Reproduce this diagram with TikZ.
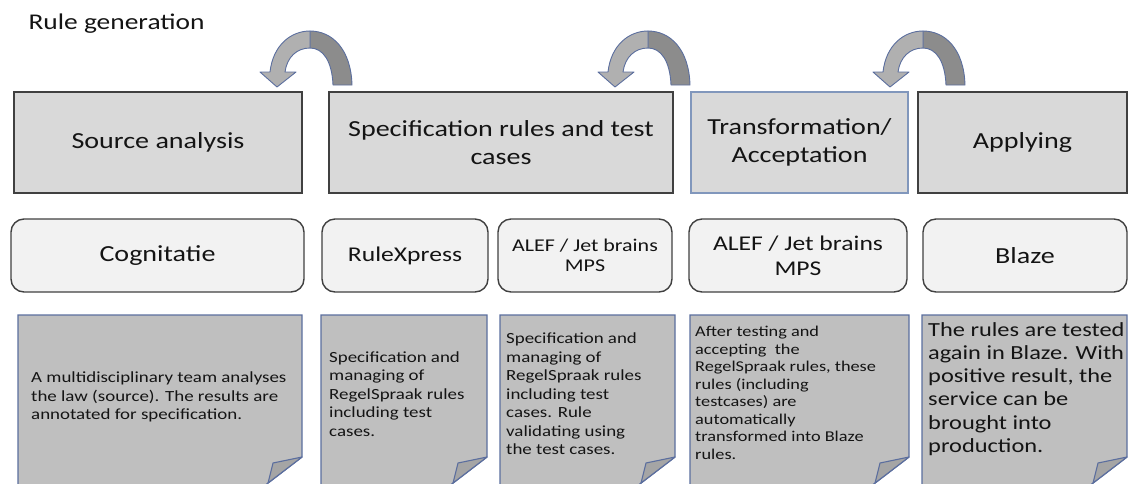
\documentclass[tikz,border=0pt]{standalone}
\usepackage{fontspec}
\setmainfont{Carlito}[FakeStretch=1.22]
\usepackage{tikz}
\usetikzlibrary{positioning,calc}
\definecolor{cHead}{HTML}{D9D9D9}
\definecolor{cHeadLine}{HTML}{404040}
\definecolor{cTransLine}{HTML}{8197BC}
\definecolor{cTool}{HTML}{F2F2F2}
\definecolor{cNote}{HTML}{BFBFBF}
\definecolor{cNoteLine}{HTML}{5B6E9E}
\definecolor{cFold}{HTML}{A5A5A5}
\definecolor{cArrFront}{HTML}{B0B0B0}
\definecolor{cArrBack}{HTML}{8C8C8C}
\definecolor{cText}{HTML}{141414}
\tikzset{
  head/.style={draw=cHeadLine,fill=cHead,line width=1.4pt,align=center,inner sep=0pt,
    minimum height=101pt,text=cText,font=\fontsize{23}{28}\selectfont},
  tool/.style={draw=cHeadLine,fill=cTool,rounded corners=13pt,line width=1.4pt,align=center,
    inner sep=0pt,minimum height=73pt,text=cText},
  note/.style={draw=cNoteLine,fill=cNote,line width=1.3pt},
  fold/.style={draw=cNoteLine,fill=cFold,line width=1.1pt,line join=round},
  ntext/.style={anchor=west,align=left,inner sep=0pt,text=cText},
  bendfront/.style={draw=cNoteLine,fill=cArrFront,line width=0.9pt,line join=round},
  bendback/.style={draw=cNoteLine,fill=cArrBack,line width=0.9pt,line join=round}}

\begin{document}
\begin{tikzpicture}[x=1pt,y=-1pt]
\useasboundingbox (0,0) rectangle (1129,483);
\clip (0,0) rectangle (1129,483);
\node[anchor=base west,text=cText,font=\fontsize{22.5}{27}\selectfont] (title) at (25,29) {Rule generation};

% phases
\node[head,minimum width=288] (src) at (158,142.5) {Source analysis};
\node[head,minimum width=344] (spec) at (501,142.5) {Specification rules and test\\cases};
\node[head,draw=cTransLine,minimum width=217] (trans) at (799.5,142.5) {Transformation/\\Acceptation};
\node[head,minimum width=209] (apply) at (1022.5,142.5) {Applying};

% tools per phase
\node[tool,minimum width=293,font=\fontsize{23}{28}\selectfont] (cog) at (157.5,255.5) {Cognitatie};
\node[tool,minimum width=166,font=\fontsize{21}{25}\selectfont] (rx) at (405,255.5) {RuleXpress};
\node[tool,minimum width=174,font=\fontsize{18}{19.5}\selectfont] (alefA) at (585,255.5) {ALEF / Jet brains\\MPS};
\node[tool,minimum width=218,font=\fontsize{21}{25}\selectfont] (alefB) at (798,255.5) {ALEF / Jet brains\\MPS};
\node[tool,minimum width=204,font=\fontsize{23}{28}\selectfont] (blaze) at (1025,255.5) {Blaze};

% notes with folded corner
\foreach \xl/\xr in {18/302, 321/487, 500/675, 690/909, 922/1127}{
  \draw[note] (\xl,500) -- (\xl,315) -- (\xr,315) -- (\xr,457) -- (\xr-56,500) -- cycle;
  \draw[fold] (\xr,457) -- (\xr-29,463) -- (\xr-34,483) -- cycle;
}
\node[ntext,font=\fontsize{15.5}{18.5}\selectfont] (srcNote) at (31,397)
  {A multidisciplinary team analyses\\the law (source). The results are\\annotated for specification.};
\node[ntext,font=\fontsize{15.5}{18.5}\selectfont] (rxNote) at (329,394)
  {Specification and\\managing of\\RegelSpraak rules\\including test\\cases.};
\node[ntext,font=\fontsize{15.5}{18.5}\selectfont] (alefNote) at (506,394)
  {Specification and\\managing of\\RegelSpraak rules\\including test\\cases. Rule\\validating using\\the test cases.};
\node[ntext,font=\fontsize{15}{17.5}\selectfont] (transNote) at (695,393)
  {After testing and\\accepting\ \ the\\RegelSpraak rules, these\\rules (including\\testcases) are\\automatically\\transformed into Blaze\\rules.};
\node[ntext,anchor=north west,font=\fontsize{20}{23.3}\selectfont] (blazeNote) at (928,322)
  {The rules are tested\\again in Blaze. With\\positive result, the\\service can be\\brought into\\production.};

% turn-back arrows over the phases
\foreach \tx in {277,615,890}{
  \begin{scope}[shift={(\tx,87)}]
    \draw[bendback] (33,-56) .. controls (55,-56) and (74,-38) .. (75,-2) -- (56,-2)
      .. controls (55,-26) and (46,-39) .. (33,-39) -- cycle;
    \draw[bendfront] (0,0) -- (-17,-15) -- (-7,-15) .. controls (-4,-42) and (14,-56) .. (33,-56)
      -- (33,-39) .. controls (20,-39) and (10,-30) .. (8,-15) -- (19,-15) -- cycle;
  \end{scope}
}
\end{tikzpicture}
\end{document}
